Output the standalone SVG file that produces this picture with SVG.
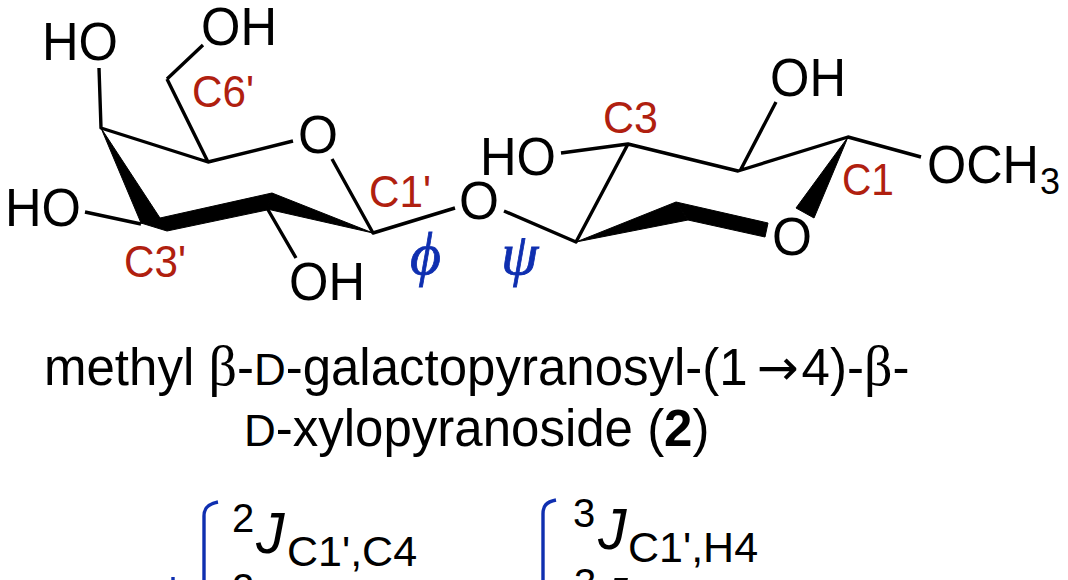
<svg xmlns="http://www.w3.org/2000/svg" width="1068" height="580" viewBox="0 0 1068 580">
<style>
text{font-family:"Liberation Sans",Arial,sans-serif;fill:#000}
.a{font-size:53px}
.r{font-size:44px;fill:#b0200f}
.g{font-family:"Liberation Serif",serif;font-style:italic;font-size:60px;fill:#0f2fb0;stroke:#0f2fb0;stroke-width:.8}
.n{font-size:51px}
.s{font-size:36px}
.j{font-size:57px;font-style:italic}
.u{font-size:43px}
.d{font-size:40px}
.sc{font-size:44px}
.sym{font-family:"Liberation Serif",serif;font-size:56px}
.ar{font-family:"DejaVu Sans",sans-serif;font-size:50px}
.b{stroke:#000;stroke-width:3.4;fill:none;stroke-linecap:butt;stroke-linejoin:round}
.k{fill:#000;stroke:#000;stroke-width:1;stroke-linejoin:round}
.br{stroke:#0f2fb0;stroke-width:3.4;fill:none}
</style>
<rect width="1068" height="580" fill="#fff"/>
<g id="connectors">
<path class="b" d="M99 68L101 128L208 162L293 141M167 79L208 162M167 79L203 45M332 159L373 233L455 208M85 212L141 224M267 208L296 258"/>
<path class="k" d="M101 128L160 218L141 223Z"/>
<path class="k" d="M160 218L272 193L267 210L167 231L141 223Z"/>
<path class="k" d="M272 193L373 233L267 209Z"/>
<path class="b" d="M561 153L628 144L738 171L848 137L921 157M776 102L740 171M628 144L576 242L504 211"/>
<path class="k" d="M576 242L676 202L688 220Z"/>
<path class="k" d="M676 202L768 223L765 237L688 220Z"/>
<path class="k" d="M848 137L796 208L814 218Z"/>
</g>
<g id="atoms">
<text class="a" x="42" y="60" textLength="76" lengthAdjust="spacingAndGlyphs">HO</text>
<text class="a" x="201" y="45" textLength="76" lengthAdjust="spacingAndGlyphs">OH</text>
<text class="a" x="298" y="153" textLength="40" lengthAdjust="spacingAndGlyphs">O</text>
<text class="a" x="5" y="226" textLength="76" lengthAdjust="spacingAndGlyphs">HO</text>
<text class="a" x="289" y="300" textLength="76" lengthAdjust="spacingAndGlyphs">OH</text>
<text class="a" x="459" y="219" textLength="40" lengthAdjust="spacingAndGlyphs">O</text>
<text class="a" x="480" y="175" textLength="76" lengthAdjust="spacingAndGlyphs">HO</text>
<text class="a" x="770" y="96" textLength="76" lengthAdjust="spacingAndGlyphs">OH</text>
<text class="a" x="772" y="255" textLength="40" lengthAdjust="spacingAndGlyphs">O</text>
<text class="a" x="927" y="183" textLength="112" lengthAdjust="spacingAndGlyphs">OCH</text>
<text class="s" x="1040" y="194">3</text>
</g>
<g id="labels">
<text class="r" x="192" y="107" textLength="62" lengthAdjust="spacingAndGlyphs">C6'</text>
<text class="r" x="369" y="207" textLength="62" lengthAdjust="spacingAndGlyphs">C1'</text>
<text class="r" x="124" y="277" textLength="62" lengthAdjust="spacingAndGlyphs">C3'</text>
<text class="r" x="603" y="133" textLength="55" lengthAdjust="spacingAndGlyphs">C3</text>
<text class="r" x="842" y="195" textLength="52" lengthAdjust="spacingAndGlyphs">C1</text>
<text class="g" x="410" y="274">ϕ</text>
<text class="g" x="501" y="274">ψ</text>
</g>
<g id="name">
<text class="n" x="44" y="385">methyl <tspan class="sym">β</tspan>-<tspan class="sc">D</tspan>-galactopyranosyl-(1<tspan class="ar" dx="9">→</tspan><tspan dx="3">4</tspan>)-<tspan class="sym">β</tspan>-</text>
<text class="n" x="244" y="446"><tspan class="sc">D</tspan>-xylopyranoside (<tspan font-weight="700">2</tspan>)</text>
</g>
<g id="couplings">
<path class="br" d="M218 502C208 504 204 508 204 516V580"/>
<path class="br" d="M556 500C546 502 543 506 543 514V580"/>
<path class="br" d="M173 577V580"/>
<text class="d" x="232" y="532">2</text>
<text class="j" x="256" y="553">J</text>
<text class="u" x="287" y="566">C1',C4</text>
<text class="d" x="232" y="602">2</text>
<text class="d" x="573" y="527">3</text>
<text class="j" x="598" y="549">J</text>
<text class="u" x="628" y="562">C1',H4</text>
<text class="d" x="574" y="597">3</text>
<text class="j" x="599" y="618">J</text>
</g>
</svg>
